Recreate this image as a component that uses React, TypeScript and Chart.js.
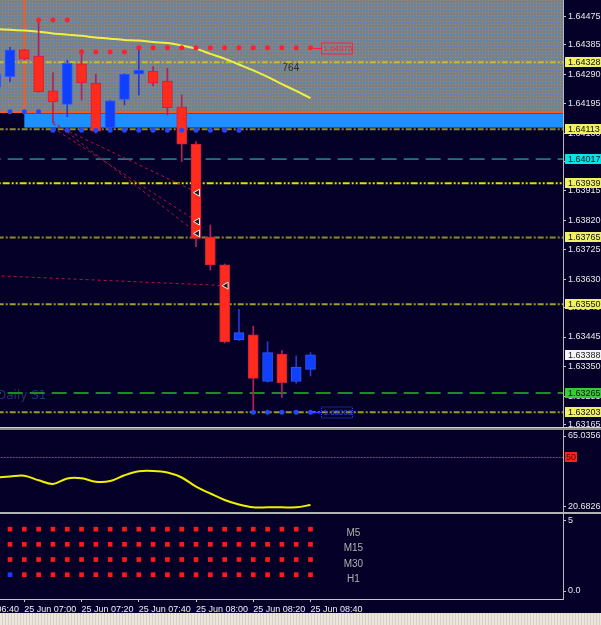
import React, { useEffect, useRef } from 'react';
import { Chart, registerables } from 'chart.js';

Chart.register(...registerables);

const FONT = "'Liberation Sans', Arial, sans-serif";
const NAVY = '#050028';

// ---------- shared time axis (5-minute bars) ----------
const X_MIN = -0.699;
const X_MAX = 38.645;
const timeTickIndex = [-3, 1, 5, 9, 13, 17, 21];
const timeTickLabels = ['25 Jun 06:40', '25 Jun 07:00', '25 Jun 07:20', '25 Jun 07:40', '25 Jun 08:00', '25 Jun 08:20', '25 Jun 08:40'];

// ---------- main window: candles ----------
const barIndex = [-1, 0, 1, 2, 3, 4, 5, 6, 7, 8, 9, 10, 11, 12, 13, 14, 15, 16, 17, 18, 19, 20, 21];
const opens = [1.64249, 1.64282, 1.64368, 1.64348, 1.64236, 1.64193, 1.64323, 1.64261, 1.64116, 1.64209, 1.64290, 1.64300, 1.64268, 1.64185, 1.64065, 1.63766, 1.63677, 1.63436, 1.63452, 1.63302, 1.63390, 1.63302, 1.63341];
const highs = [1.64298, 1.64376, 1.64370, 1.64464, 1.64295, 1.64335, 1.64368, 1.64290, 1.64206, 1.64292, 1.64378, 1.64314, 1.64309, 1.64223, 1.64073, 1.63805, 1.63680, 1.63534, 1.63480, 1.63430, 1.63401, 1.63384, 1.63395];
const lows = [1.64243, 1.64266, 1.64337, 1.64232, 1.64133, 1.64153, 1.64207, 1.64100, 1.64110, 1.64191, 1.64223, 1.64252, 1.64159, 1.64009, 1.63735, 1.63660, 1.63426, 1.63434, 1.63208, 1.63300, 1.63251, 1.63296, 1.63320];
const closes = [1.64290, 1.64368, 1.64339, 1.64234, 1.64201, 1.64325, 1.64262, 1.64107, 1.64204, 1.64290, 1.64303, 1.64261, 1.64182, 1.64065, 1.63762, 1.63677, 1.63430, 1.63459, 1.63312, 1.63395, 1.63298, 1.63348, 1.63388];
const maValues = [1.64435, 1.64433, 1.64430, 1.64426, 1.64421, 1.64417, 1.64413, 1.64408, 1.64404, 1.64400, 1.64398, 1.64393, 1.64390, 1.64382, 1.64372, 1.64355, 1.64340, 1.64321, 1.64302, 1.64281, 1.64258, 1.64236, 1.64213];

const PRICE_MIN = 1.631557;
const PRICE_MAX = 1.645283;
const priceTicks = [1.64475, 1.64385, 1.64290, 1.64195, 1.64100, 1.64010, 1.63915, 1.63820, 1.63725, 1.63630, 1.63540, 1.63445, 1.63350, 1.63255, 1.63165];
const currentPrice = 1.63388;

// horizontal levels
const levelPrices = [1.64328, 1.64113, 1.64017, 1.63939, 1.63765, 1.63550, 1.63265, 1.63203];
const levelLineColors = ['#c0c038', '#8c8c28', '#38d0c8', '#e0e000', '#8c8c28', '#a0a028', '#1e8c1e', '#9a9a28'];
const levelDashes = [[6, 2, 2, 2], [6, 2, 2, 2], [15, 7], [7, 2, 2, 2, 2, 2], [6, 2, 2, 2], [6, 2, 2, 2], [15, 7], [6, 2, 2, 2]];
const levelWidths = [2, 2, 1, 2, 2, 2, 2, 2];
const levelBoxColors = ['#f0f064', '#f0f064', '#00e6e6', '#f0f064', '#f0f064', '#f0f064', '#3cc83c', '#f0f064'];

// zones
const zoneLow = 1.64168;
const bandHigh = 1.64164;
const bandLow = 1.64118;
const bandStartIndex = 1;

// stop dots
const stopRedIndex = [2, 3, 4, 5, 6, 7, 8, 9, 10, 11, 12, 13, 14, 15, 16, 17, 18, 19, 20, 21];
const stopRedPrices = [1.64464, 1.64464, 1.64464, 1.64361, 1.64361, 1.64361, 1.64361, 1.64375, 1.64375, 1.64375, 1.64375, 1.64375, 1.64375, 1.64375, 1.64375, 1.64375, 1.64375, 1.64375, 1.64375, 1.64375];
const stopBlueIndex = [0, 1, 2, 3, 4, 5, 6, 7, 8, 9, 10, 11, 12, 13, 14, 15, 16, 17, 18, 19, 20, 21];
const stopBluePrices = [1.64169, 1.64169, 1.64169, 1.64110, 1.64110, 1.64110, 1.64110, 1.64110, 1.64110, 1.64110, 1.64110, 1.64110, 1.64110, 1.64110, 1.64110, 1.64110, 1.64110, 1.63203, 1.63203, 1.63203, 1.63203, 1.63203];

// trade history lines
const tradeOpenIndex = [3, 3, 3, -1];
const tradeOpenPrices = [1.64130, 1.64117, 1.64139, 1.63642];
const tradeCloseIndex = [13.1, 13.1, 13.1, 15.1];
const tradeClosePrices = [1.63909, 1.63816, 1.63778, 1.63610];

// text objects
const fiboText = '764';
const fiboIndex = 19.63;
const fiboPrice = 1.64308;
const pivotText = 'Daily S1';
const pivotPrice = 1.63255;

// ---------- window 1: oscillator ----------
const rsiValues = [39.03, 39.57, 40.01, 37.5, 35.47, 38.48, 38.59, 36.73, 37.11, 40.24, 42.42, 42.59, 41.77, 39.03, 33.99, 30.27, 26.71, 24.24, 22.71, 22.71, 22.71, 22.71, 23.97];
const RSI_MAX = 65.0356;
const RSI_MIN = 20.135;
const rsiTickLabels = ['65.0356', '20.6826'];
const rsiLevel = 50;

// ---------- window 2: multi-timeframe signals ----------
const signalIndex = [0, 1, 2, 3, 4, 5, 6, 7, 8, 9, 10, 11, 12, 13, 14, 15, 16, 17, 18, 19, 20, 21];
const signalRowNames = ['M5', 'M15', 'M30', 'H1'];
const signalRowValues = [4, 3, 2, 1];
const signalM5 = [-1, -1, -1, -1, -1, -1, -1, -1, -1, -1, -1, -1, -1, -1, -1, -1, -1, -1, -1, -1, -1, -1];
const signalM15 = [-1, -1, -1, -1, -1, -1, -1, -1, -1, -1, -1, -1, -1, -1, -1, -1, -1, -1, -1, -1, -1, -1];
const signalM30 = [-1, -1, -1, -1, -1, -1, -1, -1, -1, -1, -1, -1, -1, -1, -1, -1, -1, -1, -1, -1, -1, -1];
const signalH1 = [1, -1, -1, -1, -1, -1, -1, -1, -1, -1, -1, -1, -1, -1, -1, -1, -1, -1, -1, -1, -1, -1];
const signalRows = [signalM5, signalM15, signalM30, signalH1];
const SIG_MIN = -0.6;
const SIG_MAX = 5;
const sigTickLabels = ['5', '0.0'];

// ---------- styles ----------
const RED = '#ff2b1c';
const BLUE = '#1040ff';
const TICK_FONT = { family: FONT, size: 9 };

function rightAxis(extra: any = {}) {
  return {
    type: 'linear',
    position: 'right',
    afterFit: (s: any) => { s.width = 38; s.paddingTop = 0; s.paddingBottom = 0; },
    grid: { drawOnChartArea: false, drawTicks: true, tickLength: 3, color: '#c8c8c8' },
    border: { display: true, color: '#b8b8b8', width: 1 },
    ...extra,
  };
}

function hiddenX() {
  return { type: 'linear', min: X_MIN, max: X_MAX, display: false, offset: false, grid: { offset: false } };
}

const baseOptions = {
  animation: false, responsive: false, maintainAspectRatio: false, devicePixelRatio: 1,
  layout: { padding: 0, autoPadding: false },
  plugins: { legend: { display: false }, tooltip: { enabled: false } },
};

function speckle(ctx: CanvasRenderingContext2D) {
  const c = document.createElement('canvas');
  c.width = 3; c.height = 3;
  const g = c.getContext('2d')!;
  g.fillStyle = '#808080'; g.fillRect(0, 0, 3, 3);
  g.fillStyle = '#3c8ce0'; g.fillRect(1, 1, 1, 1);
  g.fillStyle = '#8a8e96'; g.fillRect(2, 0, 1, 1);
  return ctx.createPattern(c, 'repeat')!;
}

const mainDecor = {
  id: 'mainDecor',
  beforeDatasetsDraw(chart: any) {
    const { ctx, chartArea: a, scales: { x, y } } = chart;
    ctx.save();
    ctx.beginPath(); ctx.rect(a.left, a.top, a.right - a.left, a.bottom - a.top); ctx.clip();
    const zb = y.getPixelForValue(zoneLow);
    ctx.fillStyle = speckle(ctx);
    ctx.fillRect(a.left, a.top, a.right - a.left, zb - a.top);
    const bx = x.getPixelForValue(bandStartIndex);
    const bt = y.getPixelForValue(bandHigh);
    const bb = y.getPixelForValue(bandLow);
    ctx.fillStyle = '#1e90ff';
    ctx.fillRect(bx, bt, a.right - bx, bb - bt);
    ctx.strokeStyle = '#ff5a1e'; ctx.lineWidth = 2;
    ctx.beginPath(); ctx.moveTo(a.left, zb); ctx.lineTo(a.right, zb); ctx.stroke();
    ctx.beginPath(); ctx.moveTo(bx, a.top); ctx.lineTo(bx, zb); ctx.stroke();
    // text objects
    ctx.font = `10px ${FONT}`; ctx.textBaseline = 'middle'; ctx.textAlign = 'center';
    ctx.fillStyle = '#2a2a2a';
    ctx.fillText(fiboText, x.getPixelForValue(fiboIndex), y.getPixelForValue(fiboPrice));
    ctx.font = `12px 'DejaVu Sans', sans-serif`; ctx.textAlign = 'left';
    ctx.fillStyle = '#2a2e6c';
    ctx.fillText(pivotText, a.left - 3, y.getPixelForValue(pivotPrice));
    ctx.restore();
  },
  afterDraw(chart: any) {
    const { ctx, chartArea: a, scales: { x, y } } = chart;
    ctx.save();
    ctx.font = `9px ${FONT}`; ctx.textBaseline = 'middle'; ctx.textAlign = 'left';
    const box = (p: number, bg: string, fg: string) => {
      const py = Math.round(y.getPixelForValue(p));
      ctx.fillStyle = bg; ctx.fillRect(a.right + 2, py - 5, 38, 10);
      ctx.fillStyle = fg; ctx.fillText(p.toFixed(5), a.right + 5, py + 0.5);
    };
    levelPrices.forEach((p, i) => box(p, levelBoxColors[i], '#101010'));
    box(currentPrice, '#f4f4f4', '#202020');
    // in-chart price tags for stop rows
    ctx.font = `8px ${FONT}`;
    const tag = (idx: number, p: number, col: string, dotted: boolean) => {
      const px = x.getPixelForValue(idx);
      const py = Math.round(y.getPixelForValue(p)) + 0.5;
      const bx = Math.round(px + 10) + 0.5;
      ctx.strokeStyle = col; ctx.lineWidth = 1;
      ctx.setLineDash([]);
      ctx.beginPath(); ctx.moveTo(px, py); ctx.lineTo(bx, py); ctx.stroke();
      ctx.setLineDash(dotted ? [1, 1] : []);
      ctx.strokeRect(bx, py - 5.5, 31, 11);
      ctx.fillStyle = col;
      ctx.fillText(p.toFixed(5), bx + 2, py + 0.5);
    };
    tag(stopRedIndex[stopRedIndex.length - 1], stopRedPrices[stopRedPrices.length - 1], '#ff2040', false);
    tag(stopBlueIndex[stopBlueIndex.length - 1], stopBluePrices[stopBluePrices.length - 1], '#2848ff', true);
    ctx.restore();
  },
};

function mainConfig(): any {
  const up = barIndex.map((_, i) => closes[i] >= opens[i]);
  const datasets: any[] = [];
  datasets.push({
    type: 'bar', data: barIndex.map((x, i) => ({ x, y: [opens[i], closes[i]] })),
    backgroundColor: up.map(u => (u ? BLUE : RED)), borderColor: up.map(u => (u ? '#3058ff' : '#d21e46')),
    borderWidth: 1, borderSkipped: false, grouped: false, barThickness: 10, maxBarThickness: 10, order: 4,
  });
  datasets.push({
    type: 'bar', data: barIndex.map((x, i) => ({ x, y: [lows[i], highs[i]] })),
    backgroundColor: up.map(u => (u ? '#2838d0' : '#b4205a')), borderWidth: 0,
    grouped: false, barThickness: 1, maxBarThickness: 1, order: 5,
  });
  datasets.push({
    type: 'line', data: stopRedIndex.map((x, i) => ({ x, y: stopRedPrices[i] })), showLine: false,
    pointRadius: 2.5, pointStyle: 'circle', pointBackgroundColor: '#ff2030', pointBorderWidth: 0, order: 2,
  });
  datasets.push({
    type: 'line', data: stopBlueIndex.map((x, i) => ({ x, y: stopBluePrices[i] })), showLine: false,
    pointRadius: 2.5, pointStyle: 'circle', pointBackgroundColor: '#2048ff', pointBorderWidth: 0, order: 2,
  });
  datasets.push({
    type: 'line', data: tradeCloseIndex.map((x, i) => ({ x, y: tradeClosePrices[i] })), showLine: false,
    pointRadius: 4, pointStyle: 'triangle', rotation: 270, pointBackgroundColor: '#1a1a1a',
    pointBorderColor: '#f0f0f0', pointBorderWidth: 1, order: 1,
  });
  datasets.push({
    type: 'line', data: barIndex.map((x, i) => ({ x, y: maValues[i] })), borderColor: '#f0f040',
    borderWidth: 2, pointRadius: 0, tension: 0.3, order: 8,
  });
  tradeOpenIndex.forEach((x0, i) => {
    datasets.push({
      type: 'line', data: [{ x: x0, y: tradeOpenPrices[i] }, { x: tradeCloseIndex[i], y: tradeClosePrices[i] }],
      borderColor: '#b4143c', borderWidth: 1, borderDash: [3, 3], pointRadius: 0, order: 9,
    });
  });
  levelPrices.forEach((p, i) => {
    datasets.push({
      type: 'line', data: [{ x: X_MIN - 1, y: p }, { x: X_MAX + 1, y: p }],
      borderColor: levelLineColors[i], borderWidth: levelWidths[i], borderDash: levelDashes[i], pointRadius: 0, order: 10,
    });
  });
  return {
    type: 'bar',
    data: { datasets },
    options: {
      ...baseOptions,
      scales: {
        x: hiddenX(),
        y: rightAxis({
          min: PRICE_MIN, max: PRICE_MAX,
          afterBuildTicks: (s: any) => { s.ticks = priceTicks.map(v => ({ value: v })); },
          ticks: { color: '#e8e8e8', font: TICK_FONT, padding: 2, autoSkip: false, callback: (v: number) => Number(v).toFixed(5) },
        }),
      },
    },
    plugins: [mainDecor],
  };
}

const rsiDecor = {
  id: 'rsiDecor',
  afterDraw(chart: any) {
    const { ctx, chartArea: a, scales: { y } } = chart;
    const py = Math.round(y.getPixelForValue(rsiLevel));
    ctx.save();
    ctx.fillStyle = '#ff2020'; ctx.fillRect(a.right + 2, py - 5, 12, 10);
    ctx.fillStyle = '#5a0000'; ctx.font = `9px ${FONT}`; ctx.textBaseline = 'middle'; ctx.textAlign = 'left';
    ctx.fillText(String(rsiLevel), a.right + 3, py + 0.5);
    ctx.restore();
  },
};

function rsiConfig(): any {
  return {
    type: 'line',
    data: {
      datasets: [
        { data: barIndex.map((x, i) => ({ x, y: rsiValues[i] })), borderColor: '#f0f000', borderWidth: 2, pointRadius: 0, tension: 0.35, order: 1 },
        { data: [{ x: X_MIN - 1, y: rsiLevel }, { x: X_MAX + 1, y: rsiLevel }], borderColor: '#ff2020', borderWidth: 1, borderDash: [2, 1], pointRadius: 0, order: 2 },
      ],
    },
    options: {
      ...baseOptions,
      scales: {
        x: hiddenX(),
        y: rightAxis({
          min: RSI_MIN, max: RSI_MAX,
          afterBuildTicks: (s: any) => {
            const ppu = 82 / (RSI_MAX - RSI_MIN);
            s.ticks = [{ value: RSI_MAX - 6 / ppu }, { value: RSI_MIN + 5.5 / ppu }];
          },
          ticks: { color: '#e8e8e8', font: TICK_FONT, padding: 2, autoSkip: false, callback: (_v: number, i: number) => rsiTickLabels[i] },
        }),
      },
    },
    plugins: [rsiDecor],
  };
}

const sigDecor = {
  id: 'sigDecor',
  afterDatasetsDraw(chart: any) {
    const { ctx, scales: { x, y } } = chart;
    ctx.save();
    ctx.fillStyle = '#b0b0b0'; ctx.font = `10px ${FONT}`; ctx.textAlign = 'center'; ctx.textBaseline = 'middle';
    signalRowNames.forEach((n, i) => {
      ctx.fillText(n, x.getPixelForValue(24.0), y.getPixelForValue(signalRowValues[i] - 0.28));
    });
    ctx.restore();
  },
};

function sigConfig(): any {
  return {
    type: 'line',
    data: {
      datasets: signalRows.map((row, r) => ({
        data: signalIndex.map((x) => ({ x, y: signalRowValues[r] })),
        showLine: false, pointStyle: 'rect', pointRadius: 3.3, pointBorderWidth: 0,
        pointBackgroundColor: row.map(v => (v > 0 ? '#1a3cff' : '#ff1a1a')),
      })),
    },
    options: {
      ...baseOptions,
      scales: {
        x: {
          type: 'linear', min: X_MIN, max: X_MAX, position: 'bottom', offset: false,
          afterBuildTicks: (s: any) => { s.ticks = timeTickIndex.map(v => ({ value: v })); },
          afterFit: (s: any) => { s.height = 14; s.paddingLeft = 0; s.paddingRight = 0; },
          ticks: { color: '#f0f0f0', font: TICK_FONT, padding: 2, autoSkip: false, maxRotation: 0, minRotation: 0, align: 'start', callback: (_v: number, i: number) => timeTickLabels[i] },
          grid: { drawOnChartArea: false, drawTicks: true, tickLength: 3, color: '#c8c8c8', offset: false },
          border: { display: true, color: '#c8c8c8', width: 1 },
        },
        y: rightAxis({
          min: SIG_MIN, max: SIG_MAX,
          afterBuildTicks: (s: any) => {
            const ppu = 85 / (SIG_MAX - SIG_MIN);
            s.ticks = [{ value: SIG_MAX - 6.5 / ppu }, { value: SIG_MIN + 8 / ppu }];
          },
          ticks: { color: '#e8e8e8', font: TICK_FONT, padding: 2, autoSkip: false, callback: (_v: number, i: number) => sigTickLabels[i] },
        }),
      },
    },
    plugins: [sigDecor],
  };
}

export default function App() {
  const mainRef = useRef<HTMLCanvasElement>(null);
  const rsiRef = useRef<HTMLCanvasElement>(null);
  const sigRef = useRef<HTMLCanvasElement>(null);

  useEffect(() => {
    const charts = [
      new Chart(mainRef.current!, mainConfig()),
      new Chart(rsiRef.current!, rsiConfig()),
      new Chart(sigRef.current!, sigConfig()),
    ];
    return () => charts.forEach(c => c.destroy());
  }, []);

  const abs = (top: number, height: number): React.CSSProperties => ({ position: 'absolute', left: 0, top, width: 601, height, display: 'block' });

  return (
    <div style={{ position: 'absolute', left: 0, top: 0, width: 601, height: 625, background: NAVY, overflow: 'hidden' }}>
      <canvas ref={mainRef} width={601} height={427} style={abs(0, 427)} />
      <div style={{ ...abs(427, 3), background: '#8c8c8c', borderTop: '1px solid #d4d4d4', boxSizing: 'border-box' }} />
      <canvas ref={rsiRef} width={601} height={82} style={abs(430, 82)} />
      <div style={{ ...abs(512, 2), background: '#b4b4b4' }} />
      <canvas ref={sigRef} width={601} height={99} style={abs(514, 99)} />
      <div style={{ ...abs(613, 12), background: 'repeating-linear-gradient(90deg, #ece6dc 0px, #ece6dc 2px, #d8d0c6 2px, #d8d0c6 3px)' }} />
    </div>
  );
}
